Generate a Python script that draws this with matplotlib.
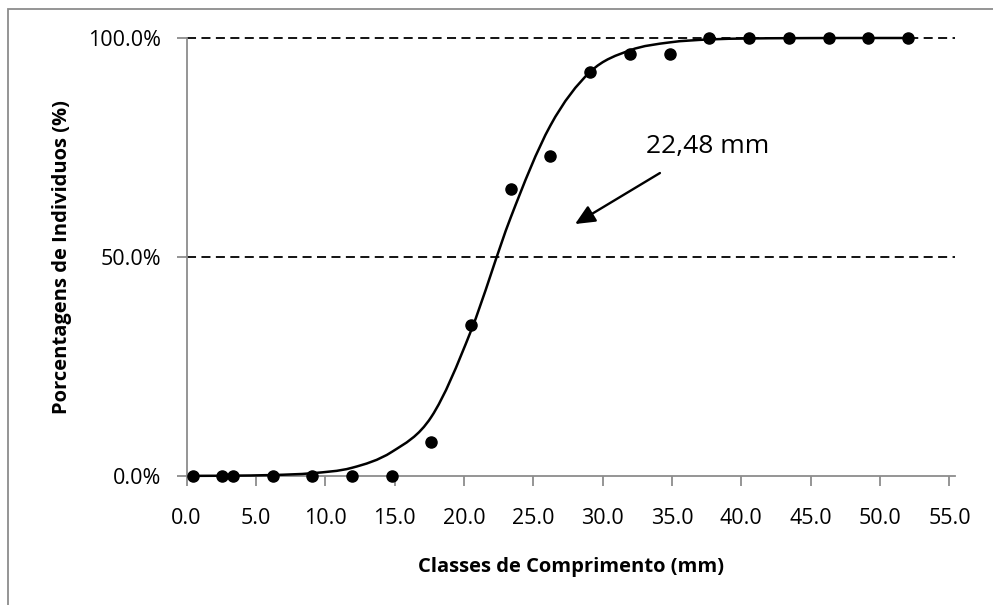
import numpy as np
import matplotlib
matplotlib.use('Agg')
import matplotlib.pyplot as plt
from matplotlib.path import Path
from matplotlib.patches import PathPatch, Rectangle

plt.rcParams['font.family'] = ['Open Sans', 'DejaVu Sans']

# observed proportions per length class
classes = [0.45, 2.56, 3.38, 6.21, 9.05, 11.9, 14.8, 17.65, 20.49, 23.37, 26.23,
           29.11, 31.98, 34.84, 37.67, 40.58, 43.44, 46.3, 49.16, 52.04]
observed = [0.0, 0.0, 0.0, 0.0, 0.0, 0.0, 0.0, 0.077, 0.345, 0.655, 0.731,
            0.923, 0.963, 0.963, 1.0, 1.0, 1.0, 1.0, 1.0, 1.0]
# fitted curve at the same classes
fitted = [0.0003, 0.0006, 0.0008, 0.0022, 0.0064, 0.0185, 0.055, 0.135, 0.33, 0.59,
          0.80, 0.923, 0.972, 0.990, 0.9967, 0.9989, 0.9996, 0.9999, 1.0, 1.0]
L50_label = '22,48 mm'
yticks = [0.0, 0.5, 1.0]
ytick_labels = ['0.0%', '50.0%', '100.0%']
xticks = [0, 5, 10, 15, 20, 25, 30, 35, 40, 45, 50, 55]

GRAY = '#8c8c8c'

fig = plt.figure(figsize=(9.93, 6.05), dpi=100)
# chart area border (only top/left visible in the crop)
fig.patches.append(Rectangle((8/993, -0.1), 1.2, 1 - 9/605 + 0.1, transform=fig.transFigure,
                             fill=False, edgecolor=GRAY, lw=1.3))
ax = fig.add_axes([186.5/993, 1 - 476/605, (955 - 186.5)/993, (476 - 38)/605])

# dashed gridlines
for yv in [0.5, 1.0]:
    ax.axhline(yv, color='black', ls=(0, (5, 3)), lw=1.3, zorder=1, clip_on=False)

# smoothed line (Excel-style bezier through the fitted points)
xs, ys = np.array(classes), np.array(fitted)
verts = [(xs[0], ys[0])]
codes = [Path.MOVETO]
n = len(xs)
for i in range(n - 1):
    p0 = np.array([xs[max(i-1, 0)], ys[max(i-1, 0)]])
    p1 = np.array([xs[i], ys[i]])
    p2 = np.array([xs[i+1], ys[i+1]])
    p3 = np.array([xs[min(i+2, n-1)], ys[min(i+2, n-1)]])
    c1 = p1 + (p2 - p0) / 6
    c2 = p2 - (p3 - p1) / 6
    verts += [tuple(c1), tuple(c2), tuple(p2)]
    codes += [Path.CURVE4] * 3
ax.add_patch(PathPatch(Path(verts, codes), fill=False, edgecolor='black', lw=1.8,
                       zorder=3, clip_on=False))

ax.plot(classes, observed, 'o', color='black', ms=8, zorder=4, clip_on=False)

ax.annotate('', xy=(27.84, 0.572), xytext=(34.3, 0.695),
            arrowprops=dict(arrowstyle='-|>,head_length=1.2,head_width=0.55', color='black', lw=1.7))
ax.text(37.6, 0.752, L50_label, fontsize=19, ha='center', va='center')

ax.set_xlim(0, 55.4)
ax.set_ylim(0, 1)
ax.set_xticks(xticks)
ax.set_xticklabels([f'{v:.1f}' for v in xticks], fontsize=15.5)
ax.set_yticks(yticks)
ax.set_yticklabels(ytick_labels, fontsize=15.5)
for s in ['top', 'right']:
    ax.spines[s].set_visible(False)
for s in ['left', 'bottom']:
    ax.spines[s].set_color(GRAY)
    ax.spines[s].set_linewidth(1.3)
ax.tick_params(axis='both', colors=GRAY, labelcolor='black', width=1.3, length=7, direction='out')
ax.tick_params(axis='x', pad=16)
ax.tick_params(axis='y', pad=11)

ax.set_xlabel('Classes de Comprimento (mm)', fontsize=14.5, fontweight='bold', labelpad=20)
ax.set_ylabel('Porcentagens de Individuos (%)', fontsize=14.5, fontweight='bold', labelpad=12)

fig.savefig('out.png', dpi=100)
